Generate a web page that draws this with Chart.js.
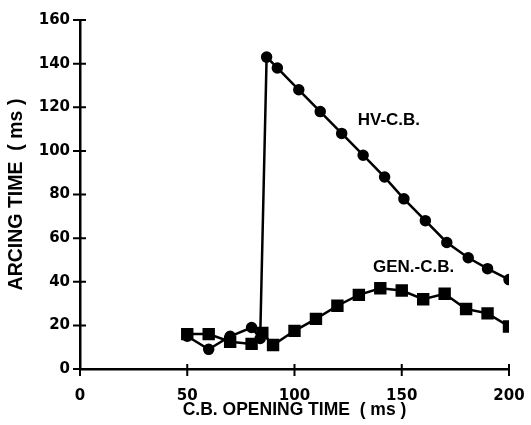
<!DOCTYPE html>
<html lang="en">
<head>
    <meta charset="UTF-8">
    <title>Arcing time vs C.B. opening time</title>
    <script src="https://cdn.jsdelivr.net/npm/chart.js"></script>
    <style>
        html, body { margin: 0; padding: 0; background: #fff; }
        #wrap { width: 531px; height: 425px; }
    </style>
</head>
<body>
    <div id="wrap"><canvas id="arcChart"></canvas></div>

    <script>
        // HV circuit breaker (round markers)
        const hvX = [50, 60, 70, 80, 84, 87, 92, 102, 112, 122, 132, 142, 151, 161, 171, 181, 190, 200];
        const hvY = [15, 9, 15, 19, 14, 143, 138, 128, 118, 108, 98, 88, 78, 68, 58, 51, 46, 41];
        // generator circuit breaker (square markers)
        const genX = [50, 60, 70, 80, 85, 90, 100, 110, 120, 130, 140, 150, 160, 170, 180, 190, 200];
        const genY = [16, 16, 12.5, 11.5, 16.5, 11, 17.5, 23, 29, 34, 37, 36, 32, 34.5, 27.5, 25.5, 19.5];

        const xTicks = [0, 50, 100, 150, 200];
        const yTicks = [0, 20, 40, 60, 80, 100, 120, 140, 160];

        const toPoints = (xs, ys) => xs.map((x, i) => ({ x: x, y: ys[i] }));

        // labels next to the curves, in data coordinates
        const curveLabels = [
            { text: 'HV-C.B.', x: 144, y: 114 },
            { text: 'GEN.-C.B.', x: 155.5, y: 46.5 }
        ];

        const crossTicks = {
            id: 'crossTicks',
            afterDraw(chart) {
                const { ctx, scales: { x, y } } = chart;
                ctx.save();
                ctx.strokeStyle = '#000';
                ctx.lineWidth = 2;
                ctx.beginPath();
                xTicks.forEach(v => {
                    const px = x.getPixelForValue(v);
                    ctx.moveTo(px, y.bottom - 5);
                    ctx.lineTo(px, y.bottom + 7);
                });
                yTicks.forEach(v => {
                    const py = y.getPixelForValue(v);
                    ctx.moveTo(x.left - 7, py);
                    ctx.lineTo(x.left + 6, py);
                });
                ctx.stroke();

                ctx.fillStyle = '#000';
                ctx.font = 'bold 17px "Liberation Sans", Arial, sans-serif';
                ctx.textAlign = 'center';
                ctx.textBaseline = 'middle';
                curveLabels.forEach(l => {
                    ctx.fillText(l.text, x.getPixelForValue(l.x), y.getPixelForValue(l.y));
                });
                ctx.restore();
            }
        };

        Chart.defaults.font.family = '"Liberation Sans", Arial, sans-serif';
        Chart.defaults.font.weight = 'bold';
        Chart.defaults.color = '#000';

        const tickFont = { family: '"DejaVu Sans", sans-serif', size: 15, weight: 'bold' };

        new Chart(document.getElementById('arcChart'), {
            type: 'scatter',
            data: {
                datasets: [{
                    label: 'HV-C.B.',
                    data: toPoints(hvX, hvY),
                    showLine: true,
                    borderColor: '#000',
                    backgroundColor: '#000',
                    borderWidth: 2.5,
                    pointStyle: 'circle',
                    pointRadius: 4.5,
                    pointHoverRadius: 4.5
                }, {
                    label: 'GEN.-C.B.',
                    data: toPoints(genX, genY),
                    showLine: true,
                    borderColor: '#000',
                    backgroundColor: '#000',
                    borderWidth: 2.5,
                    pointStyle: 'rect',
                    pointRadius: 7,
                    pointHoverRadius: 7
                }]
            },
            options: {
                responsive: true,
                maintainAspectRatio: false,
                animation: false,
                layout: { padding: { top: 20, right: 22, left: 0, bottom: 0 } },
                plugins: {
                    legend: { display: false },
                    tooltip: { enabled: false }
                },
                scales: {
                    x: {
                        type: 'linear',
                        min: 0,
                        max: 200,
                        afterBuildTicks: axis => { axis.ticks = xTicks.map(v => ({ value: v })); },
                        afterFit: axis => {
                            axis.height = 56;
                            axis.paddingLeft = 0;
                            axis.paddingRight = 0;
                        },
                        grid: { display: false },
                        border: { color: '#000', width: 2.5 },
                        ticks: { font: tickFont, padding: 10 },
                        title: {
                            display: true,
                            text: 'C.B. OPENING TIME  ( ms )',
                            font: { size: 17.5, weight: 'bold' },
                            padding: { top: 0, bottom: 4 }
                        }
                    },
                    y: {
                        type: 'linear',
                        min: 0,
                        max: 160,
                        afterBuildTicks: axis => { axis.ticks = yTicks.map(v => ({ value: v })); },
                        afterFit: axis => { axis.width = 80; },
                        grid: { display: false },
                        border: { color: '#000', width: 2.5 },
                        ticks: { font: tickFont, padding: 2 },
                        title: {
                            display: true,
                            text: 'ARCING TIME  ( ms )',
                            font: { size: 19.5, weight: 'bold' },
                            padding: { top: 5, bottom: 0 }
                        }
                    }
                }
            },
            plugins: [crossTicks]
        });
    </script>
</body>
</html>
